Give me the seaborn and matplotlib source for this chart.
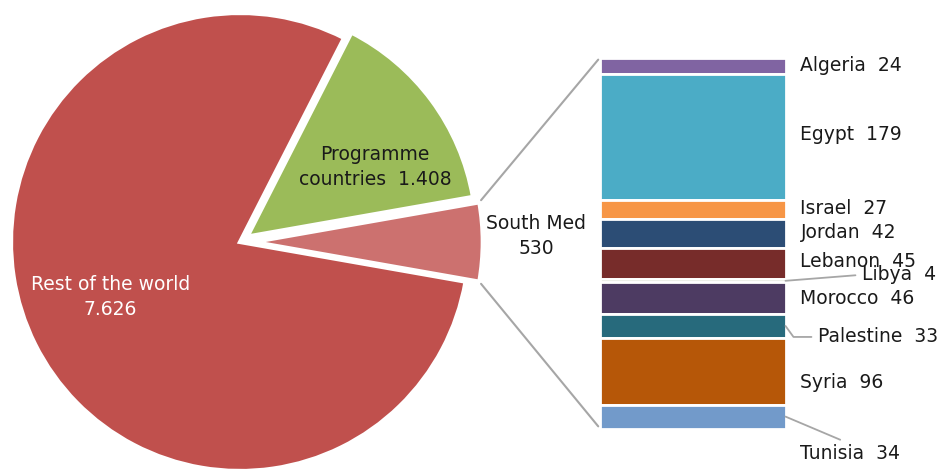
import matplotlib
matplotlib.use("Agg")
import matplotlib.pyplot as plt
from matplotlib.patches import ConnectionPatch
import numpy as np
import seaborn as sns

# ─── Data ─────────────────────────────────────────────────────────────────────
pie_labels = ["South Med", "Programme\ncountries", "Rest of the world"]
pie_values = [530, 1408, 7626]
pie_colors = ["#CC716F", "#9BBB59", "#C0504D"]

countries = ["Algeria", "Egypt", "Israel", "Jordan", "Lebanon", "Libya",
             "Morocco", "Palestine", "Syria", "Tunisia"]
country_values = [24, 179, 27, 42, 45, 4, 46, 33, 96, 34]
country_colors = ["#8064A2", "#4BACC6", "#F79646", "#2C4D75", "#772C2A",
                  "#5F7530", "#4D3B62", "#276A7C", "#B65708", "#729ACA"]

# label offsets from the bar's right edge (pixels, y up)
label_offsets = {
    "Algeria": (15, 0), "Egypt": (15, 2), "Israel": (15, 1), "Jordan": (15, 1),
    "Lebanon": (15, 2), "Libya": (76, 6), "Morocco": (15, 0),
    "Palestine": (32, -11), "Syria": (15, -11), "Tunisia": (15, -37),
}
leaders = {
    "Libya": dict(relpos=(0, 0.5), connectionstyle="arc3"),
    "Palestine": dict(relpos=(0, 0.5), connectionstyle="angle,angleA=0,angleB=-54,rad=0"),
    "Tunisia": dict(relpos=(0.5, 1), connectionstyle="arc3"),
}

TEXT = "#1a1a1a"
LINE = "#A6A6A6"
FS = 13.5


def fmt(v):
    return f"{v:,}".replace(",", ".")


sns.set_theme(style="white")
plt.rcParams["font.family"] = ["DejaVu Sans"]

W, H = 948, 471
fig = plt.figure(figsize=(W / 100, H / 100), dpi=100)

# ─── Pie ──────────────────────────────────────────────────────────────────────
cx, cy, R = 240, 242, 229
ax_pie = fig.add_axes([(cx - R) / W, (H - cy - R) / H, 2 * R / W, 2 * R / H])
total = sum(pie_values)
wedges, _ = ax_pie.pie(pie_values, colors=pie_colors, explode=[0.06, 0.04, 0],
                       startangle=-pie_values[0] / total * 180, counterclock=True,
                       wedgeprops=dict(edgecolor="white", linewidth=3))
for w in wedges:
    w.set_clip_on(False)
ax_pie.set_xlim(-1, 1)
ax_pie.set_ylim(-1, 1)
ax_pie.set_aspect("auto")
ax_pie.axis("off")

ax_pie.text(-0.565, -0.24, f"{pie_labels[2]}\n{fmt(pie_values[2])}", color="white",
            ha="center", va="center", fontsize=FS, linespacing=1.45)
ax_pie.text(0.59, 0.328, f"{pie_labels[1]}  {fmt(pie_values[1])}", color=TEXT,
            ha="center", va="center", fontsize=FS, linespacing=1.45)
ax_pie.text(1.293, 0.026, f"{pie_labels[0]}\n{fmt(pie_values[0])}", color=TEXT,
            ha="center", va="center", fontsize=FS, linespacing=1.45)

# ─── Stacked bar ──────────────────────────────────────────────────────────────
bx0, bx1, by0, by1 = 600, 785.5, 57.5, 428.5
ax_bar = fig.add_axes([bx0 / W, (H - by1) / H, (bx1 - bx0) / W, (by1 - by0) / H])
bottoms = np.concatenate([[0], np.cumsum(country_values)[:-1]])
for name, val, bot, col in zip(countries, country_values, bottoms, country_colors):
    ax_bar.bar(0.5, val, bottom=bot, width=1, color=col, edgecolor="white",
               linewidth=2, clip_on=False)
ax_bar.set_xlim(0, 1)
ax_bar.set_ylim(sum(country_values), 0)
ax_bar.axis("off")

for name, val, bot in zip(countries, country_values, bottoms):
    dx, dy = label_offsets[name]
    props = None
    if name in leaders:
        props = dict(arrowstyle="-", color=LINE, lw=1.3, shrinkA=2, shrinkB=0,
                     **leaders[name])
    ax_bar.annotate(f"{name}  {val}", xy=(1, bot + val / 2), xytext=(dx, dy),
                    textcoords="offset pixels", ha="left", va="center",
                    fontsize=FS, color=TEXT, arrowprops=props, annotation_clip=False)

# ─── Connectors pie -> bar ────────────────────────────────────────────────────
sm = wedges[0]
for theta, ybar in [(sm.theta2, 0), (sm.theta1, sum(country_values))]:
    px = sm.center[0] + sm.r * np.cos(np.radians(theta))
    py = sm.center[1] + sm.r * np.sin(np.radians(theta))
    con = ConnectionPatch(xyA=(px, py), coordsA=ax_pie.transData,
                          xyB=(0, ybar), coordsB=ax_bar.transData,
                          color=LINE, lw=1.5, shrinkA=2, shrinkB=2)
    fig.add_artist(con)

fig.savefig("out.png", dpi=100, facecolor="white")
